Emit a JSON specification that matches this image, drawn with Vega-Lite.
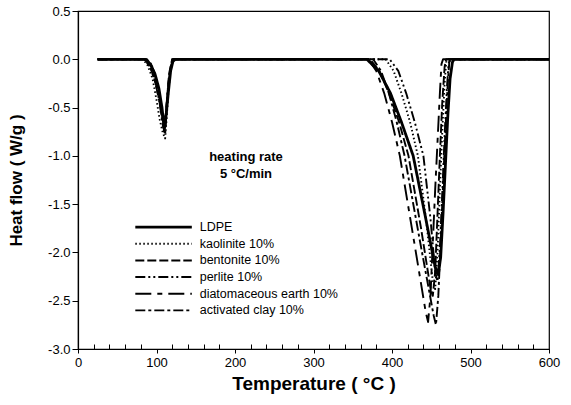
{
  "$schema": "https://vega.github.io/schema/vega-lite/v6.json",
  "width": 471,
  "height": 338,
  "autosize": {"type": "none"},
  "padding": {"left": 78, "top": 11, "right": 22, "bottom": 56},
  "background": "white",
  "config": {
    "font": "Liberation Sans",
    "view": {"stroke": "black", "strokeWidth": 1.2},
    "axis": {"grid": false, "labelFlush": false, "domainColor": "black", "tickColor": "black", "labelColor": "black", "titleColor": "black", "labelFont": "Liberation Sans", "titleFont": "Liberation Sans"}
  },
  "datasets": {
    "curves": [
      {"series": "LDPE", "t": 25, "v": 0}, {"series": "LDPE", "t": 85, "v": 0}, {"series": "LDPE", "t": 92, "v": -0.05}, {"series": "LDPE", "t": 98, "v": -0.15}, {"series": "LDPE", "t": 103, "v": -0.3}, {"series": "LDPE", "t": 107, "v": -0.5}, {"series": "LDPE", "t": 110, "v": -0.72}, {"series": "LDPE", "t": 112, "v": -0.6}, {"series": "LDPE", "t": 115, "v": -0.35}, {"series": "LDPE", "t": 118, "v": -0.12}, {"series": "LDPE", "t": 121, "v": -0.02}, {"series": "LDPE", "t": 124, "v": 0},
      {"series": "LDPE", "t": 368, "v": 0}, {"series": "LDPE", "t": 383, "v": -0.12}, {"series": "LDPE", "t": 398, "v": -0.35}, {"series": "LDPE", "t": 412, "v": -0.65}, {"series": "LDPE", "t": 427, "v": -1.0}, {"series": "LDPE", "t": 443, "v": -1.65}, {"series": "LDPE", "t": 455, "v": -2.15}, {"series": "LDPE", "t": 459, "v": -2.23}, {"series": "LDPE", "t": 462, "v": -2.05}, {"series": "LDPE", "t": 465, "v": -1.6}, {"series": "LDPE", "t": 468, "v": -1.1}, {"series": "LDPE", "t": 471, "v": -0.6}, {"series": "LDPE", "t": 474, "v": -0.2}, {"series": "LDPE", "t": 477, "v": -0.03}, {"series": "LDPE", "t": 479, "v": 0}, {"series": "LDPE", "t": 600, "v": 0},

      {"series": "kaolinite 10%", "t": 25, "v": 0}, {"series": "kaolinite 10%", "t": 82, "v": 0}, {"series": "kaolinite 10%", "t": 88, "v": -0.05}, {"series": "kaolinite 10%", "t": 95, "v": -0.2}, {"series": "kaolinite 10%", "t": 100, "v": -0.42}, {"series": "kaolinite 10%", "t": 104, "v": -0.62}, {"series": "kaolinite 10%", "t": 108, "v": -0.76}, {"series": "kaolinite 10%", "t": 111, "v": -0.82}, {"series": "kaolinite 10%", "t": 113, "v": -0.6}, {"series": "kaolinite 10%", "t": 115, "v": -0.35}, {"series": "kaolinite 10%", "t": 118, "v": -0.1}, {"series": "kaolinite 10%", "t": 122, "v": 0},
      {"series": "kaolinite 10%", "t": 392, "v": 0}, {"series": "kaolinite 10%", "t": 402, "v": -0.12}, {"series": "kaolinite 10%", "t": 412, "v": -0.35}, {"series": "kaolinite 10%", "t": 423, "v": -0.65}, {"series": "kaolinite 10%", "t": 433, "v": -1.0}, {"series": "kaolinite 10%", "t": 444, "v": -1.7}, {"series": "kaolinite 10%", "t": 452, "v": -2.3}, {"series": "kaolinite 10%", "t": 455, "v": -2.38}, {"series": "kaolinite 10%", "t": 458, "v": -2.0}, {"series": "kaolinite 10%", "t": 461, "v": -1.35}, {"series": "kaolinite 10%", "t": 464, "v": -0.75}, {"series": "kaolinite 10%", "t": 467, "v": -0.25}, {"series": "kaolinite 10%", "t": 469, "v": -0.03}, {"series": "kaolinite 10%", "t": 471, "v": 0}, {"series": "kaolinite 10%", "t": 600, "v": 0},

      {"series": "bentonite 10%", "t": 25, "v": 0}, {"series": "bentonite 10%", "t": 88, "v": 0}, {"series": "bentonite 10%", "t": 95, "v": -0.08}, {"series": "bentonite 10%", "t": 101, "v": -0.25}, {"series": "bentonite 10%", "t": 106, "v": -0.5}, {"series": "bentonite 10%", "t": 110, "v": -0.74}, {"series": "bentonite 10%", "t": 113, "v": -0.45}, {"series": "bentonite 10%", "t": 116, "v": -0.15}, {"series": "bentonite 10%", "t": 120, "v": 0},
      {"series": "bentonite 10%", "t": 372, "v": 0}, {"series": "bentonite 10%", "t": 384, "v": -0.12}, {"series": "bentonite 10%", "t": 396, "v": -0.35}, {"series": "bentonite 10%", "t": 409, "v": -0.65}, {"series": "bentonite 10%", "t": 421, "v": -1.0}, {"series": "bentonite 10%", "t": 437, "v": -1.75}, {"series": "bentonite 10%", "t": 449, "v": -2.37}, {"series": "bentonite 10%", "t": 452, "v": -2.45}, {"series": "bentonite 10%", "t": 455, "v": -2.2}, {"series": "bentonite 10%", "t": 458, "v": -1.6}, {"series": "bentonite 10%", "t": 461, "v": -1.0}, {"series": "bentonite 10%", "t": 464, "v": -0.45}, {"series": "bentonite 10%", "t": 467, "v": -0.08}, {"series": "bentonite 10%", "t": 469, "v": 0}, {"series": "bentonite 10%", "t": 600, "v": 0},

      {"series": "perlite 10%", "t": 25, "v": 0}, {"series": "perlite 10%", "t": 86, "v": 0}, {"series": "perlite 10%", "t": 93, "v": -0.1}, {"series": "perlite 10%", "t": 99, "v": -0.25}, {"series": "perlite 10%", "t": 104, "v": -0.45}, {"series": "perlite 10%", "t": 109, "v": -0.7}, {"series": "perlite 10%", "t": 112, "v": -0.55}, {"series": "perlite 10%", "t": 115, "v": -0.25}, {"series": "perlite 10%", "t": 119, "v": -0.05}, {"series": "perlite 10%", "t": 122, "v": 0},
      {"series": "perlite 10%", "t": 397, "v": 0}, {"series": "perlite 10%", "t": 408, "v": -0.12}, {"series": "perlite 10%", "t": 418, "v": -0.35}, {"series": "perlite 10%", "t": 429, "v": -0.65}, {"series": "perlite 10%", "t": 440, "v": -1.0}, {"series": "perlite 10%", "t": 449, "v": -1.65}, {"series": "perlite 10%", "t": 455, "v": -2.2}, {"series": "perlite 10%", "t": 458, "v": -2.3}, {"series": "perlite 10%", "t": 461, "v": -1.95}, {"series": "perlite 10%", "t": 464, "v": -1.4}, {"series": "perlite 10%", "t": 467, "v": -0.8}, {"series": "perlite 10%", "t": 470, "v": -0.3}, {"series": "perlite 10%", "t": 472, "v": -0.05}, {"series": "perlite 10%", "t": 474, "v": 0}, {"series": "perlite 10%", "t": 600, "v": 0},

      {"series": "diatomaceous earth 10%", "t": 25, "v": 0}, {"series": "diatomaceous earth 10%", "t": 90, "v": 0}, {"series": "diatomaceous earth 10%", "t": 96, "v": -0.1}, {"series": "diatomaceous earth 10%", "t": 102, "v": -0.28}, {"series": "diatomaceous earth 10%", "t": 107, "v": -0.55}, {"series": "diatomaceous earth 10%", "t": 110, "v": -0.76}, {"series": "diatomaceous earth 10%", "t": 113, "v": -0.5}, {"series": "diatomaceous earth 10%", "t": 116, "v": -0.2}, {"series": "diatomaceous earth 10%", "t": 120, "v": 0},
      {"series": "diatomaceous earth 10%", "t": 370, "v": 0}, {"series": "diatomaceous earth 10%", "t": 380, "v": -0.12}, {"series": "diatomaceous earth 10%", "t": 390, "v": -0.35}, {"series": "diatomaceous earth 10%", "t": 400, "v": -0.65}, {"series": "diatomaceous earth 10%", "t": 410, "v": -1.0}, {"series": "diatomaceous earth 10%", "t": 428, "v": -1.88}, {"series": "diatomaceous earth 10%", "t": 443, "v": -2.62}, {"series": "diatomaceous earth 10%", "t": 446, "v": -2.72}, {"series": "diatomaceous earth 10%", "t": 449, "v": -2.45}, {"series": "diatomaceous earth 10%", "t": 452, "v": -1.9}, {"series": "diatomaceous earth 10%", "t": 455, "v": -1.35}, {"series": "diatomaceous earth 10%", "t": 458, "v": -0.85}, {"series": "diatomaceous earth 10%", "t": 461, "v": -0.35}, {"series": "diatomaceous earth 10%", "t": 463, "v": -0.05}, {"series": "diatomaceous earth 10%", "t": 465, "v": 0}, {"series": "diatomaceous earth 10%", "t": 600, "v": 0},

      {"series": "activated clay 10%", "t": 25, "v": 0}, {"series": "activated clay 10%", "t": 84, "v": 0}, {"series": "activated clay 10%", "t": 92, "v": -0.08}, {"series": "activated clay 10%", "t": 98, "v": -0.22}, {"series": "activated clay 10%", "t": 104, "v": -0.45}, {"series": "activated clay 10%", "t": 108, "v": -0.68}, {"series": "activated clay 10%", "t": 111, "v": -0.78}, {"series": "activated clay 10%", "t": 114, "v": -0.4}, {"series": "activated clay 10%", "t": 118, "v": -0.08}, {"series": "activated clay 10%", "t": 121, "v": 0},
      {"series": "activated clay 10%", "t": 376, "v": 0}, {"series": "activated clay 10%", "t": 386, "v": -0.12}, {"series": "activated clay 10%", "t": 396, "v": -0.35}, {"series": "activated clay 10%", "t": 406, "v": -0.65}, {"series": "activated clay 10%", "t": 416, "v": -1.0}, {"series": "activated clay 10%", "t": 436, "v": -1.9}, {"series": "activated clay 10%", "t": 453, "v": -2.65}, {"series": "activated clay 10%", "t": 456, "v": -2.75}, {"series": "activated clay 10%", "t": 459, "v": -2.45}, {"series": "activated clay 10%", "t": 462, "v": -1.9}, {"series": "activated clay 10%", "t": 465, "v": -1.3}, {"series": "activated clay 10%", "t": 468, "v": -0.75}, {"series": "activated clay 10%", "t": 471, "v": -0.25}, {"series": "activated clay 10%", "t": 473, "v": -0.03}, {"series": "activated clay 10%", "t": 475, "v": 0}, {"series": "activated clay 10%", "t": 600, "v": 0}
    ],
    "legendLines": [
      {"series": "LDPE", "t": 73, "v": -1.737}, {"series": "LDPE", "t": 145, "v": -1.737},
      {"series": "kaolinite 10%", "t": 73, "v": -1.91}, {"series": "kaolinite 10%", "t": 145, "v": -1.91},
      {"series": "bentonite 10%", "t": 73, "v": -2.083}, {"series": "bentonite 10%", "t": 145, "v": -2.083},
      {"series": "perlite 10%", "t": 73, "v": -2.255}, {"series": "perlite 10%", "t": 145, "v": -2.255},
      {"series": "diatomaceous earth 10%", "t": 73, "v": -2.428}, {"series": "diatomaceous earth 10%", "t": 145, "v": -2.428},
      {"series": "activated clay 10%", "t": 73, "v": -2.60}, {"series": "activated clay 10%", "t": 145, "v": -2.60}
    ],
    "legendText": [
      {"label": "LDPE", "t": 155, "v": -1.737},
      {"label": "kaolinite 10%", "t": 155, "v": -1.91},
      {"label": "bentonite 10%", "t": 155, "v": -2.083},
      {"label": "perlite 10%", "t": 155, "v": -2.255},
      {"label": "diatomaceous earth 10%", "t": 155, "v": -2.428},
      {"label": "activated clay 10%", "t": 155, "v": -2.60}
    ],
    "notes": [
      {"label": "heating rate", "t": 214, "v": -1.01},
      {"label": "5 °C/min", "t": 214, "v": -1.19}
    ]
  },
  "resolve": {"axis": {"x": "independent"}},
  "layer": [
    {
      "data": {"name": "curves"},
      "mark": {"type": "line", "color": "black", "strokeCap": "butt", "strokeJoin": "round"},
      "encoding": {
        "x": {"field": "t", "type": "quantitative", "scale": {"domain": [0, 600], "nice": false, "zero": false},
          "axis": {"values": [0, 100, 200, 300, 400, 500, 600], "title": "Temperature ( °C )", "titleFontSize": 19, "titleFontWeight": "bold", "titlePadding": 5, "labelFontSize": 13, "tickSize": 4, "labelPadding": 3, "orient": "bottom", "domainWidth": 1.2}},
        "y": {"field": "v", "type": "quantitative", "scale": {"domain": [-3, 0.5], "nice": false, "zero": false},
          "axis": {"values": [-3, -2.5, -2, -1.5, -1, -0.5, 0, 0.5], "labelExpr": "replace(format(datum.value, '.1f'), '\u2212', '-')", "title": "Heat flow ( W/g )", "titleFontSize": 17, "titleFontWeight": "bold", "titlePadding": 22, "labelFontSize": 13, "tickSize": 6, "labelPadding": 2, "domainWidth": 1.2}},
        "detail": {"field": "series"},
        "strokeDash": {"field": "series", "type": "nominal", "legend": null,
          "scale": {"domain": ["LDPE", "kaolinite 10%", "bentonite 10%", "perlite 10%", "diatomaceous earth 10%", "activated clay 10%"],
                    "range": [[1, 0], [1.5, 2.5], [9, 3], [10, 3, 2, 3, 2, 3], [16, 6, 5, 6], [10, 3, 3, 3]]}},
        "strokeWidth": {"condition": {"test": "datum.series === 'LDPE'", "value": 2.8}, "value": 1.9}
      }
    },
    {
      "data": {"name": "legendLines"},
      "mark": {"type": "line", "color": "black", "strokeCap": "butt"},
      "encoding": {
        "x": {"field": "t", "type": "quantitative", "axis": {"values": [20, 40, 60, 80, 120, 140, 160, 180, 220, 240, 260, 280, 320, 340, 360, 380, 420, 440, 460, 480, 520, 540, 560, 580], "labels": false, "domain": false, "title": null, "tickSize": -5, "orient": "bottom"}},
        "y": {"field": "v", "type": "quantitative"},
        "detail": {"field": "series"},
        "strokeDash": {"field": "series", "type": "nominal", "legend": null},
        "strokeWidth": {"condition": {"test": "datum.series === 'LDPE'", "value": 2.8}, "value": 1.9}
      }
    },
    {
      "data": {"name": "legendText"},
      "mark": {"type": "text", "align": "left", "baseline": "middle", "fontSize": 12.5, "color": "black", "font": "Liberation Sans"},
      "encoding": {
        "x": {"field": "t", "type": "quantitative", "axis": null},
        "y": {"field": "v", "type": "quantitative"},
        "text": {"field": "label"}
      }
    },
    {
      "data": {"name": "notes"},
      "mark": {"type": "text", "align": "center", "baseline": "middle", "fontSize": 13, "fontWeight": "bold", "color": "black", "font": "Liberation Sans"},
      "encoding": {
        "x": {"field": "t", "type": "quantitative", "axis": null},
        "y": {"field": "v", "type": "quantitative"},
        "text": {"field": "label"}
      }
    }
  ]
}
